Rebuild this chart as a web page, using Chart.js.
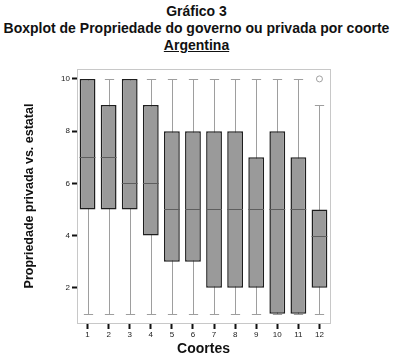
<!DOCTYPE html>
<html>
<head>
<meta charset="utf-8">
<script src="https://cdn.jsdelivr.net/npm/chart.js@4.4.1/dist/chart.umd.min.js"></script>
<style>
  body { margin: 0; background: #fff; }
  #titles {
    position: absolute; left: 0; top: 0; width: 393px;
    text-align: center; color: #111;
    font-family: "Liberation Sans", Arial, sans-serif;
    font-weight: bold; font-size: 14px; line-height: 17px; white-space: nowrap;
  }
  #titles .l1 { margin-top: 3px; }
  #titles .l3 span { text-decoration: underline; }
  #wrap { position: absolute; left: 0; top: 60px; width: 393px; height: 301px; }
</style>
</head>
<body>
<div id="titles">
  <div class="l1">Gráfico 3</div>
  <div>Boxplot de Propriedade do governo ou privada por coorte</div>
  <div class="l3"><span>Argentina</span></div>
</div>
<div id="wrap"><canvas id="box-chart"></canvas></div>
<script>
// cohorts and boxplot summaries
var cohorts = ["1", "2", "3", "4", "5", "6", "7", "8", "9", "10", "11", "12"];
var mins    = [1, 1, 1, 1, 1, 1, 1, 1, 1, 1, 1, 1];
var q1s     = [5, 5, 5, 4, 3, 3, 2, 2, 2, 1, 1, 2];
var medians = [7, 7, 6, 6, 5, 5, 5, 5, 5, 5, 5, 4];
var q3s     = [10, 9, 10, 9, 8, 8, 8, 8, 7, 8, 7, 5];
var maxs    = [10, 10, 10, 10, 10, 10, 10, 10, 10, 10, 10, 9];
var outliers = [null, null, null, null, null, null, null, null, null, null, null, 10];
var yTicks  = [2, 4, 6, 8, 10];

var boxes = [];
for (var i = 0; i < cohorts.length; i++) {
    boxes.push([q1s[i], q3s[i]]);
}

var sans = "'Liberation Sans', Arial, sans-serif";

// whiskers behind the boxes, medians on top, plus the frame
var boxplotBits = {
    id: 'boxplotBits',
    beforeDatasetsDraw: function(chart) {
        var ctx = chart.ctx, xs = chart.scales.x, ys = chart.scales.y;
        var step = xs.getPixelForValue(1) - xs.getPixelForValue(0);
        var cap = step * 0.22;
        ctx.save();
        ctx.strokeStyle = '#9e9e9e';
        ctx.lineWidth = 1;
        for (var i = 0; i < cohorts.length; i++) {
            var x = Math.round(xs.getPixelForValue(i)) + 0.5;
            var yl = Math.round(ys.getPixelForValue(mins[i])) + 0.5;
            var yh = Math.round(ys.getPixelForValue(maxs[i])) + 0.5;
            ctx.beginPath();
            ctx.moveTo(x, yl); ctx.lineTo(x, yh);
            ctx.moveTo(x - cap, yl); ctx.lineTo(x + cap, yl);
            ctx.moveTo(x - cap, yh); ctx.lineTo(x + cap, yh);
            ctx.stroke();
        }
        ctx.restore();
    },
    afterDatasetsDraw: function(chart) {
        var ctx = chart.ctx, ys = chart.scales.y;
        var meta = chart.getDatasetMeta(0);
        ctx.save();
        ctx.strokeStyle = '#5e5e5e';
        ctx.lineWidth = 1;
        for (var i = 0; i < cohorts.length; i++) {
            var bar = meta.data[i];
            var half = bar.width / 2;
            var y = Math.round(ys.getPixelForValue(medians[i])) + 0.5;
            ctx.beginPath();
            ctx.moveTo(bar.x - half, y); ctx.lineTo(bar.x + half, y);
            ctx.stroke();
        }
        var a = chart.chartArea;
        ctx.strokeStyle = '#c8c8c8';
        ctx.strokeRect(Math.round(a.left) + 0.5, Math.round(a.top) + 0.5,
                       Math.round(a.right - a.left), Math.round(a.bottom - a.top));
        ctx.restore();
    }
};

new Chart(document.getElementById("box-chart"), {
    type: 'bar',
    data: {
        labels: cohorts,
        datasets: [
            {
                label: 'Caixa',
                data: boxes,
                backgroundColor: '#9a9a9a',
                borderColor: '#1e1e1e',
                borderWidth: 1.5,
                borderSkipped: false,
                barPercentage: 0.75,
                categoryPercentage: 1
            },
            {
                type: 'line',
                label: 'Outlier',
                data: outliers,
                showLine: false,
                pointStyle: 'circle',
                pointRadius: 3,
                pointBackgroundColor: '#fff',
                pointBorderColor: '#a0a0a0',
                pointBorderWidth: 1
            }
        ]
    },
    options: {
        responsive: true,
        maintainAspectRatio: false,
        animation: false,
        layout: { padding: { top: 9, right: 63, bottom: 0, left: 18 } },
        plugins: {
            legend: { display: false },
            tooltip: { enabled: false }
        },
        scales: {
            x: {
                offset: true,
                afterFit: function(s) { s.height = 38; },
                grid: { display: true, drawOnChartArea: false, tickLength: 6, tickWidth: 2, tickColor: '#111', offset: false },
                border: { display: false },
                ticks: { color: '#222', padding: 1, font: { size: 8, family: sans } },
                title: { display: true, text: 'Coortes', color: '#111', padding: { top: 0, bottom: 3 },
                         font: { size: 14, weight: 'bold', family: sans } }
            },
            y: {
                min: 0.65,
                max: 10.38,
                afterBuildTicks: function(s) {
                    s.ticks = yTicks.map(function(v) { return { value: v }; });
                },
                afterFit: function(s) { s.width = 77 - 18; },
                grid: { display: true, drawOnChartArea: false, tickLength: 5, tickWidth: 2, tickColor: '#111' },
                border: { display: false },
                ticks: { color: '#222', padding: 2, font: { size: 8, family: sans } },
                title: { display: true, text: 'Propriedade privada vs. estatal', color: '#111', padding: { top: 4, bottom: 0 },
                         font: { size: 12.5, weight: 'bold', family: sans } }
            }
        }
    },
    plugins: [boxplotBits]
});
</script>
</body>
</html>
